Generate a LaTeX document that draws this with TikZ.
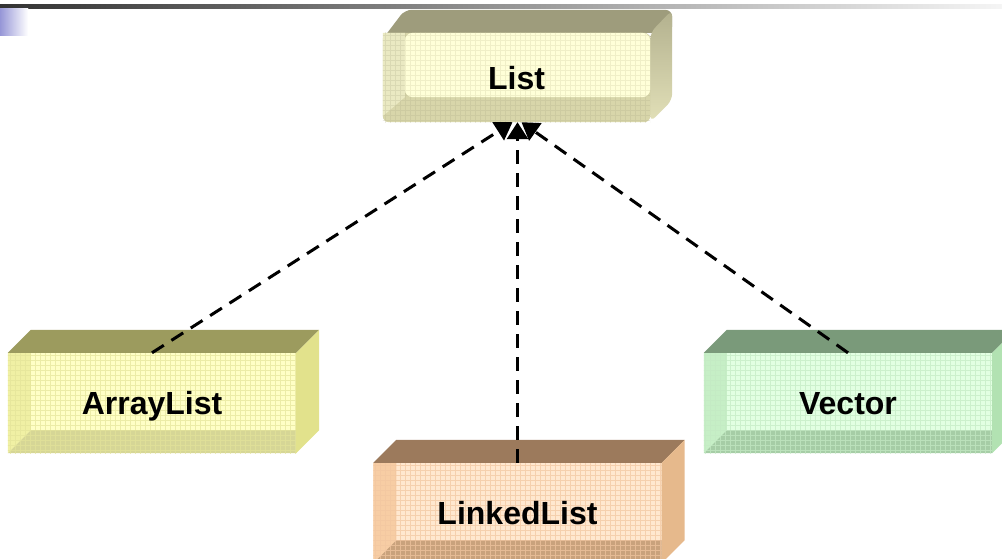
\documentclass[tikz,border=0pt]{standalone}
\usepackage{fontspec}
\setmainfont{Liberation Sans}
\usetikzlibrary{arrows.meta,calc}
\pgfdeclarelayer{background}
\pgfsetlayers{background,main}
% ArrayList colours
\definecolor{alTop}{HTML}{9C9B5E}\definecolor{alFront}{HTML}{FFFFC6}\definecolor{alLeft}{HTML}{F0F0A4}
\definecolor{alBottom}{HTML}{D6D696}\definecolor{alRight}{HTML}{E2E28C}\definecolor{alGrid}{HTML}{E4E49A}
% LinkedList colours
\definecolor{llTop}{HTML}{9C7A5C}\definecolor{llFront}{HTML}{FFE8D0}\definecolor{llLeft}{HTML}{F7CDA4}
\definecolor{llBottom}{HTML}{C9A27C}\definecolor{llRight}{HTML}{E6B98C}\definecolor{llGrid}{HTML}{F2C6A0}
% Vector colours
\definecolor{vcTop}{HTML}{7A9A7A}\definecolor{vcFront}{HTML}{E2FFE2}\definecolor{vcLeft}{HTML}{C6EFC6}
\definecolor{vcBottom}{HTML}{A6CDA6}\definecolor{vcRight}{HTML}{B2E2B2}\definecolor{vcGrid}{HTML}{C4EAC4}
% List colours
\definecolor{lsTop}{HTML}{9E9C7C}\definecolor{lsFront}{HTML}{FFFFD8}\definecolor{lsLeft}{HTML}{EAE9C2}
\definecolor{lsBottom}{HTML}{D8D6AA}\definecolor{lsRight}{HTML}{E2E0B8}\definecolor{lsGrid}{HTML}{E6E5BC}
\tikzset{
  lbl/.style={font=\bfseries\fontsize{32}{36}\selectfont, text height=23pt, text depth=0pt, inner sep=0pt},
  cubefront/.style={minimum width=288pt, minimum height=100pt, inner sep=0pt, lbl},
  inh/.style={draw=black, line width=3pt, dash pattern=on 14pt off 9pt, -{Triangle[length=17pt,width=21pt]}},
}
\newcommand{\drawcube}[2]{%
  \begin{pgfonlayer}{background}
    \fill[#2Front] (#1.north west) rectangle (#1.south east);
    \fill[#2Left] (#1.north west) -- ([xshift=23pt]#1.north west) -- ([shift={(23pt,23pt)}]#1.south west) -- (#1.south west) -- cycle;
    \fill[#2Bottom] (#1.south west) -- ([shift={(23pt,23pt)}]#1.south west) -- ([yshift=23pt]#1.south east) -- (#1.south east) -- cycle;
    \begin{scope}
      \clip (#1.north west) rectangle (#1.south east);
      \draw[#2Grid, opacity=0.7, line width=0.6pt, step=5pt] ([shift={(-5pt,-5pt)}]#1.south west) grid ([shift={(5pt,5pt)}]#1.north east);
    \end{scope}
    \fill[#2Top] (#1.north west) -- ([shift={(23pt,23pt)}]#1.north west) -- ([shift={(23pt,23pt)}]#1.north east) -- (#1.north east) -- cycle;
    \fill[#2Right] (#1.north east) -- ([shift={(23pt,23pt)}]#1.north east) -- ([shift={(23pt,23pt)}]#1.south east) -- (#1.south east) -- cycle;
  \end{pgfonlayer}}
\begin{document}
\begin{tikzpicture}[x=1pt,y=-1pt]
\useasboundingbox (0,0) rectangle (1002,558);
% slide header decoration
\shade[left color=black!80, right color=black!4] (0,4) rectangle (1002,8);
\shade[left color=blue!40!black!10!white, right color=white] (0,8) rectangle (28,35);
\shade[left color={rgb,255:red,150;green,150;blue,215}, right color=white] (0,8) rectangle (28,35);

% nodes
\node[lbl, minimum width=267pt, minimum height=89pt] (list) at (516.5,77.5) {List};
\node[cubefront] (al) at (152,403) {ArrayList};
\node[cubefront] (ll) at (517.5,513) {LinkedList};
\node[cubefront] (vc) at (848,403) {Vector};

\drawcube{al}{al}
\drawcube{ll}{ll}
\drawcube{vc}{vc}

% List bevel box
\begin{pgfonlayer}{background}
  \fill[lsTop, rounded corners=7pt] ([yshift=-6pt]list.north west) -- ([shift={(22pt,23pt)}]list.north west) -- ([shift={(22pt,23pt)}]list.north east) -- ([shift={(22pt,0pt)}]list.north east) -- (list.north east) -- cycle;
  \shade[top color=lsTop!70!lsRight, bottom color=lsRight, rounded corners=7pt] (list.north east) -- ([shift={(22pt,23pt)}]list.north east) -- ([shift={(22pt,22pt)}]list.south east) -- (list.south east) -- cycle;
  \fill[lsBottom, rounded corners=6pt] (list.north west) -- (list.north east) -- (list.south east) -- (list.south west) -- cycle;
  \fill[lsLeft] (list.north west) -- ([xshift=22pt]list.north west) -- ([shift={(22pt,25pt)}]list.south west) -- ([yshift=6pt]list.south west) -- cycle;
  \begin{scope}
    \clip (list.north west) rectangle (list.south east);
    \draw[lsBottom!80!black, opacity=0.25, line width=0.6pt, step=5pt] ([shift={(-5pt,-5pt)}]list.south west) grid ([shift={(5pt,5pt)}]list.north east);
  \end{scope}
  \fill[lsFront, rounded corners=8pt] ([xshift=22pt]list.north west) -- (list.north east) -- ([yshift=25pt]list.south east) -- ([shift={(22pt,25pt)}]list.south west) -- cycle;
  \begin{scope}
    \clip[rounded corners=8pt] ([xshift=22pt]list.north west) rectangle ([yshift=25pt]list.south east);
    \draw[lsGrid, opacity=0.6, line width=0.6pt, step=5pt] ([shift={(-5pt,-5pt)}]list.south west) grid ([shift={(5pt,5pt)}]list.north east);
  \end{scope}
\end{pgfonlayer}

% inheritance connectors
\draw[inh] (al.north) -- ([xshift=-4pt]list.south);
\draw[inh] (vc.north) -- ([xshift=5pt]list.south);
\draw[inh] (ll.north) -- (ll.north |- list.south);
\end{tikzpicture}
\end{document}
